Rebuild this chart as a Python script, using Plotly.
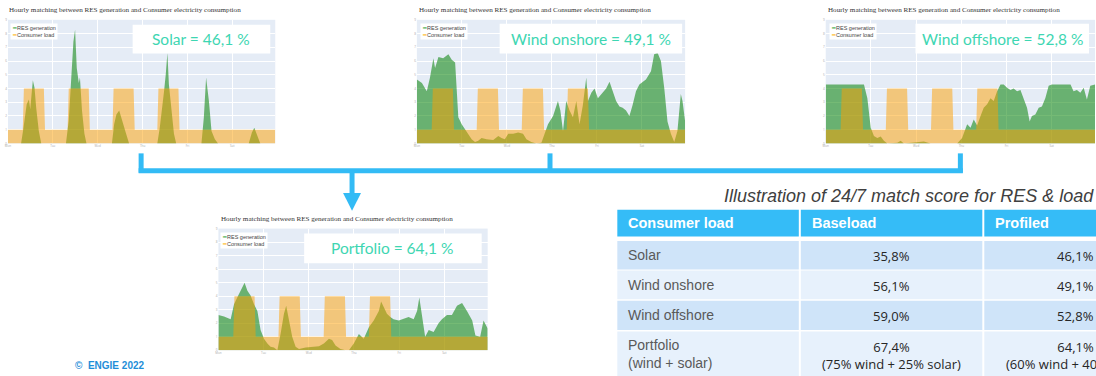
import plotly.graph_objects as go

W, H = 1096, 376

# ---------------- data (hours, values) ----------------
load_h = [0, 7.9, 8.5, 19.2, 19.8, 31.9, 32.5, 43.2, 43.8, 55.9, 56.5, 67.2, 67.8, 79.9, 80.5, 91.2, 91.8, 143]
load_v = [1, 1, 4, 4, 1, 1, 4, 4, 1, 1, 4, 4, 1, 1, 4, 4, 1, 1]

solar_h = [0, 7, 8.3, 10, 11.2, 11.9, 13.3, 14.2, 15.1, 16.5, 17.8, 31, 32.5, 33.7, 35, 35.9, 36.8, 37.9, 38.5,
           39.6, 40.9, 42, 55.6, 56.8, 58, 59.5, 61.3, 63, 64.8, 79.9, 81.2, 82.6, 83.5, 84.4, 85.3, 86.1, 87.6,
           88.8, 90, 103.5, 104.8, 106, 107.5, 108.9, 110.7, 112.4, 128.8, 130.5, 131.8, 133.2, 135, 143]
solar_v = [0, 0, 1.15, 2.85, 3.2, 2.5, 4.6, 4.05, 2.6, 0.9, 0, 0, 1.65, 4.5, 7.4, 8.3, 5.5, 4.4, 4.8,
           2.4, 0.7, 0, 0, 1.4, 2.1, 2.4, 1.65, 0.8, 0, 0, 1.15, 3.1, 3.8, 5.0, 6.6, 4.3, 2.4,
           0.7, 0, 0, 1.9, 4.8, 3.1, 0.9, 0.3, 0, 0, 0.8, 1.15, 0.7, 0, 0]

on_h = [0, 2.7, 5.3, 7, 8.8, 9.7, 11.5, 14, 16.8, 18.6, 20.4, 21.2, 22.1, 23.9, 25.7, 27.4, 29.2, 31, 32.7, 34.5,
        37.2, 40.7, 43.4, 45.1, 46.9, 48.7, 51.3, 54, 56.6, 58.4, 61, 63.7, 66.4, 68.1, 69.9, 72.6, 75.2, 76.5,
        77.9, 79.6, 81.4, 83.2, 85, 86.7, 88.5, 90.3, 91.2, 93, 94.7, 96.5, 98.2, 100.9, 102.7, 104.4, 106.2,
        108, 109.7, 111.5, 113.3, 115, 116.8, 118.6, 120.4, 122.1, 124.8, 126.5, 128.3, 130.1, 131.9, 133.6,
        135.4, 137.2, 138.9, 140.7, 141.6, 143]
on_v = [4.65, 4.4, 3.8, 4.8, 6.2, 5.5, 6.3, 6.2, 6.5, 6.1, 5.9, 3.8, 1.9, 1.4, 1.0, 0.7, 0.3, 0.1, 0.2, 0.4,
        0.3, 0.25, 0.55, 0.4, 0.3, 0.7, 0.7, 0.8, 0.7, 0.3, 0.1, 0, 0.05, 0.7, 1.4, 2.0, 3.1, 2.4,
        0.9, 3.1, 2.4, 1.9, 3.1, 1.4, 2.8, 4.8, 3.1, 3.7, 4.0, 3.3, 3.6, 4.0, 4.5, 3.8, 3.1,
        2.7, 2.6, 2.4, 2.0, 2.8, 3.8, 4.3, 4.5, 4.65, 5.25, 6.5, 6.6, 6.0, 4.0, 1.6,
        0.7, 0.1, 0.9, 3.6, 3.1, 1.6]

off_h = [0, 20.3, 22.1, 23.9, 25.6, 27.4, 29.2, 30.9, 32.7, 38, 39.8, 41.5, 52.1, 55.7, 69.8, 72.4, 75.1, 76.9,
         78.6, 80.4, 82.2, 83.9, 85.7, 87.5, 89.2, 91, 92.8, 94.5, 96.3, 98.1, 99.8, 101.6, 103.4, 105.1, 106.9,
         108.3, 109.5, 111.3, 113.1, 114.8, 116.6, 118.4, 120.1, 130, 131.6, 133.4, 135.2, 137, 138.7, 140.5, 143]
off_v = [4.3, 4.3, 3.3, 1.15, 0.55, 0.4, 0.5, 0.2, 0, 0.05, 0.2, 0, 0.15, 0, 0, 0.4, 1.4, 1.15,
         1.75, 1.3, 2.0, 2.6, 2.85, 3.3, 3.1, 3.8, 4.3, 4.3, 4.05, 3.9, 4.0, 3.8, 3.9, 3.3, 2.6,
         1.6, 2.0, 2.1, 2.6, 2.7, 3.3, 4.2, 4.3, 4.3, 3.8, 3.9, 3.7, 4.05, 3.2, 4.2, 4.3]

pf_h = [0, 3, 6.5, 8.3, 10, 11.8, 13.9, 15.4, 17.1, 18.9, 20.7, 22.4, 24.2, 26, 27.7, 29.5, 31.3, 33, 34.8, 36,
        37.4, 39.2, 41, 42.8, 46.3, 49.8, 53.4, 56, 58.7, 60.4, 62.2, 64.8, 67.5, 69.3, 71.9, 74.6, 77.2, 79.9,
        82.5, 85.2, 86.4, 87.8, 89.5, 91.3, 93, 95.8, 98.4, 101, 103.7, 105.5, 106.7, 108, 109.8, 111.7, 114.3,
        116.9, 118.7, 121.4, 124, 126.7, 129.4, 132, 134.8, 136.5, 139, 140.8, 143]
pf_v = [2.6, 2.5, 2.3, 3.4, 3.9, 4.4, 5.0, 4.4, 4.05, 3.4, 2.9, 1.5, 0.85, 0.5, 0.25, 0.2, 0, 1.2, 2.7, 3.3,
        2.2, 1.0, 0.25, 0.1, 0.2, 0.25, 0.3, 0.5, 0.85, 0.75, 0.35, 0.1, 0, 0, 0.5, 1.2, 0.85, 1.7,
        2.2, 2.9, 3.6, 3.2, 2.7, 2.45, 2.3, 2.2, 2.3, 2.45, 2.3, 2.9, 3.9, 2.7, 1.0, 1.5, 1.35,
        2.0, 2.3, 2.6, 2.6, 3.3, 3.5, 2.9, 2.2, 1.1, 1.0, 2.2, 1.6]

x_tickvals = [0, 24, 48, 72, 96, 120]
x_ticktext = ["Mon", "Tue", "Wed", "Thu", "Fri", "Sat"]
y_tickvals = [0, 1, 2, 3, 4, 5, 6, 7, 8, 9]

chart_title = "Hourly matching between RES generation and Consumer electricity consumption"
score_labels = ["Solar = 46,1 %", "Wind onshore = 49,1 %", "Wind offshore = 52,8 %", "Portfolio = 64,1 %"]

table_title = "Illustration of 24/7 match score for RES & load"
table_header = ["Consumer load", "Baseload", "Profiled"]
table_sources = ["Solar", "Wind onshore", "Wind offshore", "Portfolio<br>(wind + solar)"]
table_baseload = ["35,8%", "56,1%", "59,0%", "67,4%<br>(75% wind + 25% solar)"]
table_profiled = ["46,1%", "49,1%", "52,8%", "64,1%<br>(60% wind + 40% solar)"]

# ---------------- helpers for page positions ----------------
def px(x):
    return x / W

def py(y):
    return 1 - y / H

GREEN = "green"
ORANGE = "orange"
TEAL = "#3ED6B2"
BLUE = "#33BBF5"

# chart boxes in pixels: (x0, x1, y0, y1)
charts = [
    dict(box=(5, 273, 18, 143), h=solar_h, v=solar_v, title=(5, 8),
         label_box=(130, 268, 23, 52), legend=(7, 21)),
    dict(box=(415, 684, 18, 143), h=on_h, v=on_v, title=(416, 8),
         label_box=(498, 681, 22, 52), legend=(418, 21)),
    dict(box=(825, 1095, 18, 143), h=off_h, v=off_v, title=(826, 8),
         label_box=(915, 1089, 22, 52), legend=(828, 21)),
    dict(box=(216, 486, 229, 352), h=pf_h, v=pf_v, title=(218, 219),
         label_box=(302, 480, 234, 264), legend=(218, 232)),
]

fig = go.Figure()
shapes = []
annotations = []
layout_axes = {}

for i, c in enumerate(charts):
    n = "" if i == 0 else str(i + 1)
    xa, ya = "x" + n, "y" + n
    x0, x1, y0, y1 = c["box"]
    fig.add_trace(go.Scatter(x=c["h"], y=c["v"], xaxis=xa, yaxis=ya, mode="lines",
                             line=dict(color=GREEN, width=0), fill="tozeroy",
                             fillcolor="rgba(0,128,0,0.54)", name="RES generation",
                             showlegend=False, hoverinfo="skip"))
    fig.add_trace(go.Scatter(x=load_h, y=load_v, xaxis=xa, yaxis=ya, mode="lines",
                             line=dict(color=ORANGE, width=0), fill="tozeroy",
                             fillcolor="rgba(255,160,0,0.5)", name="Consumer load",
                             showlegend=False, hoverinfo="skip"))
    layout_axes["xaxis" + n] = dict(domain=[px(x0), px(x1)], range=[0, 143], anchor=ya,
                                    tickvals=x_tickvals, ticktext=x_ticktext,
                                    tickfont=dict(size=3, color="#aaaaaa"),
                                    showgrid=True, gridcolor="white", gridwidth=0.6,
                                    zeroline=False, showline=False, ticks="")
    layout_axes["yaxis" + n] = dict(domain=[py(y1), py(y0)], range=[0, 9], anchor=xa,
                                    tickvals=y_tickvals, tickfont=dict(size=3, color="#aaaaaa"),
                                    showgrid=True, gridcolor="white", gridwidth=0.6,
                                    zeroline=False, showline=False, ticks="")
    # chart title
    tx, ty = c["title"]
    annotations.append(dict(x=px(tx), y=py(ty), xref="paper", yref="paper", xanchor="left",
                            yanchor="middle", showarrow=False, text=chart_title, borderpad=0,
                            font=dict(family="Liberation Serif", size=7.1, color="#333333")))
    # legend box
    lx, ly = c["legend"]
    annotations.append(dict(x=px(lx), y=py(ly), xref="paper", yref="paper", xanchor="left",
                            yanchor="top", showarrow=False, align="left", bgcolor="white",
                            borderpad=1,
                            text=("<span style='color:#2ca02c'>━</span>RES generation<br>"
                                  "<span style='color:#ffb000'>━</span>Consumer load"),
                            font=dict(family="Liberation Sans", size=5.5, color="#444444")))
    # score label
    bx0, bx1, by0, by1 = c["label_box"]
    shapes.append(dict(type="rect", xref="paper", yref="paper", x0=px(bx0), x1=px(bx1),
                       y0=py(by1), y1=py(by0), fillcolor="white", line=dict(width=0), layer="above"))
    annotations.append(dict(x=px((bx0 + bx1) / 2), y=py((by0 + by1) / 2), xref="paper", yref="paper",
                            xanchor="center", yanchor="middle", showarrow=False, text=score_labels[i],
                            font=dict(family="Lato", size=15.5, color=TEAL)))

# ---------------- connectors ----------------
for vx in (138.5, 548.5, 960):
    shapes.append(dict(type="line", xref="paper", yref="paper", x0=px(vx), x1=px(vx),
                       y0=py(153), y1=py(172.5), line=dict(color=BLUE, width=5)))
shapes.append(dict(type="line", xref="paper", yref="paper", x0=px(136), x1=px(962.5),
                   y0=py(170.5), y1=py(170.5), line=dict(color=BLUE, width=5)))
shapes.append(dict(type="line", xref="paper", yref="paper", x0=px(350), x1=px(350),
                   y0=py(170), y1=py(195), line=dict(color=BLUE, width=5)))
shapes.append(dict(type="path", xref="paper", yref="paper",
                   path=f"M {px(341)} {py(193)} L {px(359)} {py(193)} L {px(350)} {py(211)} Z",
                   fillcolor=BLUE, line=dict(width=0)))

# ---------------- table ----------------
cols = [(616, 798), (800, 982), (984, 1166)]
header_rows = (210, 237)
body_rows = [(241.5, 270.5), (271.5, 300.5), (302, 331.5), (333, 380)]
row_colors = ["#CFE4F9", "#E7F1FC", "#CFE4F9", "#E7F1FC"]

annotations.append(dict(x=px(721), y=py(196), xref="paper", yref="paper", xanchor="left",
                        yanchor="middle", showarrow=False, text=f"<i>{table_title}</i>",
                        font=dict(family="Liberation Sans", size=18, color="#404040")))

for j, (cx0, cx1) in enumerate(cols):
    shapes.append(dict(type="rect", xref="paper", yref="paper", x0=px(cx0), x1=px(cx1),
                       y0=py(header_rows[1]), y1=py(header_rows[0]), fillcolor="#35BCF7",
                       line=dict(width=0)))
    annotations.append(dict(x=px(cx0 + 9), y=py(sum(header_rows) / 2), xref="paper", yref="paper",
                            xanchor="left", yanchor="middle", showarrow=False,
                            text=f"<b>{table_header[j]}</b>",
                            font=dict(family="Liberation Sans", size=14.5, color="white")))
    for r, (ry0, ry1) in enumerate(body_rows):
        shapes.append(dict(type="rect", xref="paper", yref="paper", x0=px(cx0), x1=px(cx1),
                           y0=py(ry1), y1=py(ry0), fillcolor=row_colors[r], line=dict(width=0)))

for r, (ry0, ry1) in enumerate(body_rows):
    two_line = r == 3
    yc = 356 if two_line else (ry0 + ry1) / 2
    annotations.append(dict(x=px(625), y=py(yc), xref="paper", yref="paper", xanchor="left",
                            yanchor="middle", showarrow=False, align="left", text=table_sources[r],
                            font=dict(family="Liberation Sans", size=14, color="#595959")))
    for j, vals in ((1, table_baseload), (2, table_profiled)):
        cx0, cx1 = cols[j]
        annotations.append(dict(x=px((cx0 + cx1) / 2), y=py(yc + 1), xref="paper", yref="paper",
                                xanchor="center", yanchor="middle", showarrow=False, align="center",
                                text=vals[r],
                                font=dict(family="Open Sans", size=13, color="#262626")))

# ---------------- footer ----------------
annotations.append(dict(x=px(107), y=py(367), xref="paper", yref="paper", xanchor="center",
                        yanchor="middle", showarrow=False, text="<b>©  ENGIE 2022</b>",
                        font=dict(family="Liberation Sans", size=10, color="#1F8ED8")))

fig.update_layout(width=W, height=H, margin=dict(l=0, r=0, t=0, b=0),
                  paper_bgcolor="white", plot_bgcolor="#E5ECF6", showlegend=False,
                  shapes=shapes, annotations=annotations, **layout_axes)

fig.write_html("out.html")
